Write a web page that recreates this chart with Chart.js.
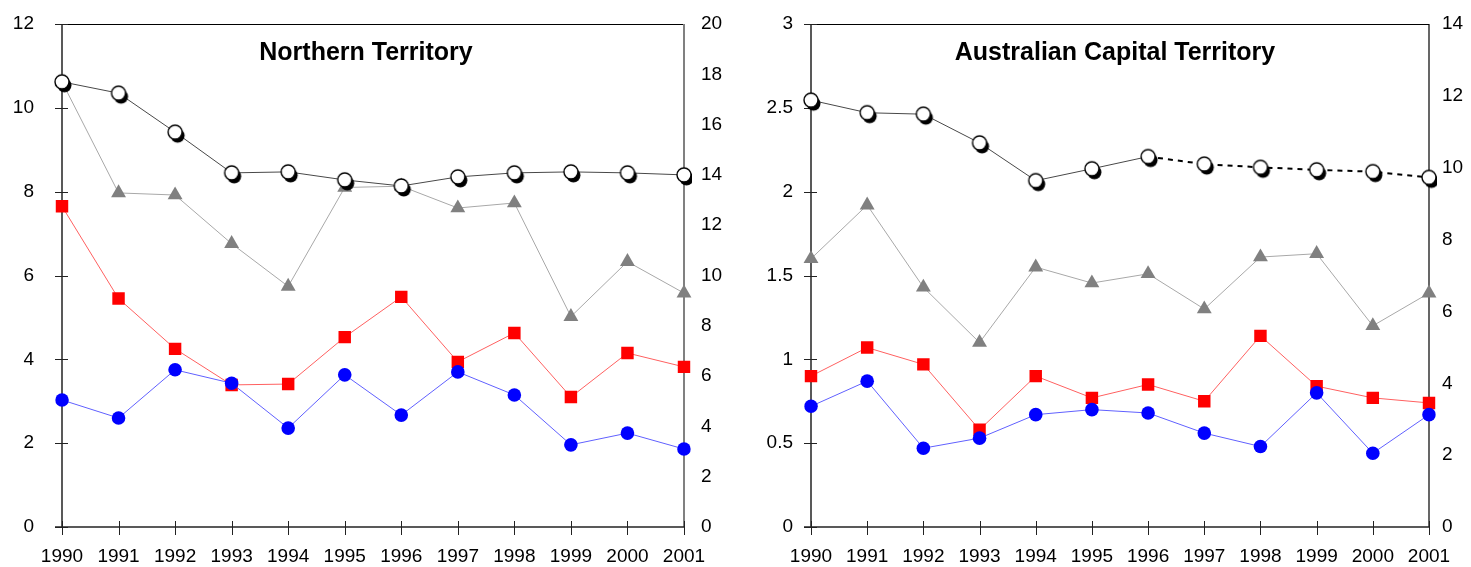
<!DOCTYPE html>
<html>
<head>
<meta charset="utf-8">
<script src="https://cdn.jsdelivr.net/npm/chart.js"></script>
<style>
  html, body { margin: 0; padding: 0; background: #fff; }
  #nt { position: absolute; left: 0; top: 0; }
  #act { position: absolute; left: 735px; top: 0; }
</style>
</head>
<body>
<canvas id="nt" width="735" height="567"></canvas>
<canvas id="act" width="736" height="567"></canvas>
<script>
// years along the bottom
var years = ['1990', '1991', '1992', '1993', '1994', '1995', '1996', '1997', '1998', '1999', '2000', '2001'];

// Northern Territory (white dots read on right axis, rest on left)
var ntWhite = [17.7, 17.25, 15.7, 14.08, 14.12, 13.8, 13.56, 13.92, 14.08, 14.12, 14.08, 14.0];
var ntGrey = [10.62, 7.97, 7.92, 6.76, 5.74, 8.1, 8.13, 7.61, 7.73, 5.02, 6.33, 5.58];
var ntRed = [7.65, 5.45, 4.25, 3.39, 3.41, 4.53, 5.49, 3.94, 4.63, 3.10, 4.15, 3.82];
var ntBlue = [3.03, 2.60, 3.75, 3.43, 2.36, 3.63, 2.67, 3.70, 3.15, 1.96, 2.24, 1.86];

// Australian Capital Territory
var actWhite = [11.88, 11.53, 11.49, 10.69, 9.64, 9.97, 10.31, 10.10, 10.01, 9.94, 9.89, 9.73];
var actGrey = [1.60, 1.92, 1.43, 1.10, 1.55, 1.455, 1.51, 1.30, 1.61, 1.63, 1.20, 1.395];
var actRed = [0.90, 1.07, 0.97, 0.58, 0.90, 0.77, 0.85, 0.75, 1.14, 0.84, 0.77, 0.74];
var actBlue = [0.72, 0.87, 0.47, 0.53, 0.67, 0.70, 0.68, 0.56, 0.48, 0.80, 0.44, 0.67];

Chart.defaults.font.family = "'Liberation Sans', Arial, sans-serif";
Chart.defaults.font.size = 19;
Chart.defaults.color = '#000';

// white marker with a black drop shadow
function shadowDot(r) {
  var c = document.createElement('canvas');
  c.width = c.height = Math.ceil(2 * r + 14);
  var g = c.getContext('2d');
  var m = c.width / 2;
  g.fillStyle = '#000';
  g.beginPath(); g.arc(m + 2.5, m + 3.5, r, 0, Math.PI * 2); g.fill();
  g.fillStyle = '#fff'; g.strokeStyle = '#000'; g.lineWidth = 1.4;
  g.beginPath(); g.arc(m, m, r, 0, Math.PI * 2); g.fill(); g.stroke();
  return c;
}
var whiteDot = shadowDot(7);

function line(ctx, x1, y1, x2, y2) {
  ctx.beginPath(); ctx.moveTo(x1, y1); ctx.lineTo(x2, y2); ctx.stroke();
}

// axes box, crossing tick marks and the title inside the plot
var framePlugin = {
  id: 'frame',
  beforeDatasetsDraw: function (chart, args, o) {
    var ctx = chart.ctx, a = chart.chartArea, sx = chart.scales.x, sy = chart.scales.y;
    ctx.save();
    ctx.strokeStyle = '#000';
    ctx.lineWidth = 1;
    line(ctx, a.left, a.top + 0.5, a.right, a.top + 0.5);
    ctx.strokeStyle = o.rightColor;
    ctx.lineWidth = o.rightWidth;
    line(ctx, a.right, a.top, a.right, a.bottom);
    ctx.strokeStyle = '#222';
    ctx.lineWidth = 1.5;
    line(ctx, a.left, a.top, a.left, a.bottom);
    line(ctx, a.left - 7, a.bottom, a.right, a.bottom);
    ctx.lineWidth = 1;
    sy.ticks.forEach(function (t) {
      var y = Math.round(sy.getPixelForValue(t.value)) + 0.5;
      line(ctx, a.left - 7, y, a.left + 6, y);
    });
    years.forEach(function (lab, i) {
      var x = Math.round(sx.getPixelForValue(i)) + 0.5;
      line(ctx, x, a.bottom - 6, x, a.bottom + 8);
    });
    ctx.fillStyle = '#000';
    ctx.font = "bold 25px 'Liberation Sans', Arial, sans-serif";
    ctx.textAlign = 'center';
    ctx.textBaseline = 'alphabetic';
    ctx.fillText(o.title, o.titleX, 60);
    ctx.restore();
  }
};

function makeChart(id, c) {
  new Chart(document.getElementById(id), {
    type: 'line',
    data: {
      labels: years,
      datasets: [
        { data: c.white, yAxisID: 'y1', order: 0, borderColor: '#484848', borderWidth: 1,
          pointStyle: whiteDot, pointRadius: 7, segment: c.segment || {} },
        { data: c.blue, yAxisID: 'y', order: 1, borderColor: '#6060ff', borderWidth: 1,
          pointStyle: 'circle', pointRadius: 6.8, pointBackgroundColor: '#0000ff', pointBorderWidth: 0 },
        { data: c.red, yAxisID: 'y', order: 2, borderColor: '#ff6060', borderWidth: 1,
          pointStyle: 'rect', pointRadius: 8.8, pointBackgroundColor: '#ff0000', pointBorderWidth: 0 },
        { data: c.grey, yAxisID: 'y', order: 3, borderColor: '#a8a8a8', borderWidth: 1,
          pointStyle: 'triangle', pointRadius: 8.6, pointBackgroundColor: '#808080', pointBorderWidth: 0 }
      ]
    },
    options: {
      responsive: false,
      animation: false,
      layout: { padding: { top: 24, left: 0, right: 0, bottom: 0 } },
      elements: { line: { tension: 0 } },
      plugins: {
        legend: { display: false },
        tooltip: { enabled: false },
        frame: { title: c.title, titleX: c.titleX, rightColor: c.rightColor, rightWidth: c.rightWidth }
      },
      scales: {
        x: {
          grid: { display: false, drawTicks: false },
          border: { display: false },
          ticks: { autoSkip: false, maxRotation: 0, padding: 18 },
          afterFit: function (s) { s.height = 40; }
        },
        y: {
          position: 'left', min: 0, max: c.leftMax,
          grid: { display: false, drawTicks: false },
          border: { display: false },
          ticks: { stepSize: c.leftStep, padding: c.leftPad, callback: function (v) { return String(v); } },
          afterFit: function (s) { s.width = c.leftW; s.paddingTop = 0; s.paddingBottom = 0; }
        },
        y1: {
          position: 'right', min: 0, max: c.rightMax,
          grid: { display: false, drawTicks: false },
          border: { display: false },
          ticks: { stepSize: 2, padding: c.rightPad, callback: function (v) { return String(v); } },
          afterFit: function (s) { s.width = c.rightW; s.paddingTop = 0; s.paddingBottom = 0; }
        }
      }
    },
    plugins: [framePlugin]
  });
}

makeChart('nt', {
  white: ntWhite, grey: ntGrey, red: ntRed, blue: ntBlue,
  title: 'Northern Territory', titleX: 366,
  leftMax: 12, leftStep: 2, leftW: 62, leftPad: 28,
  rightMax: 20, rightW: 51, rightPad: 17,
  rightColor: '#808080', rightWidth: 2
});

makeChart('act', {
  white: actWhite, grey: actGrey, red: actRed, blue: actBlue,
  title: 'Australian Capital Territory', titleX: 380,
  leftMax: 3, leftStep: 0.5, leftW: 76, leftPad: 18,
  rightMax: 14, rightW: 42, rightPad: 13,
  rightColor: '#000', rightWidth: 1.2,
  segment: {
    borderDash: function (s) { return s.p0DataIndex >= 6 ? [5, 5] : undefined; },
    borderColor: function (s) { return s.p0DataIndex >= 6 ? '#000' : undefined; },
    borderWidth: function (s) { return s.p0DataIndex >= 6 ? 2 : undefined; }
  }
});
</script>
</body>
</html>
